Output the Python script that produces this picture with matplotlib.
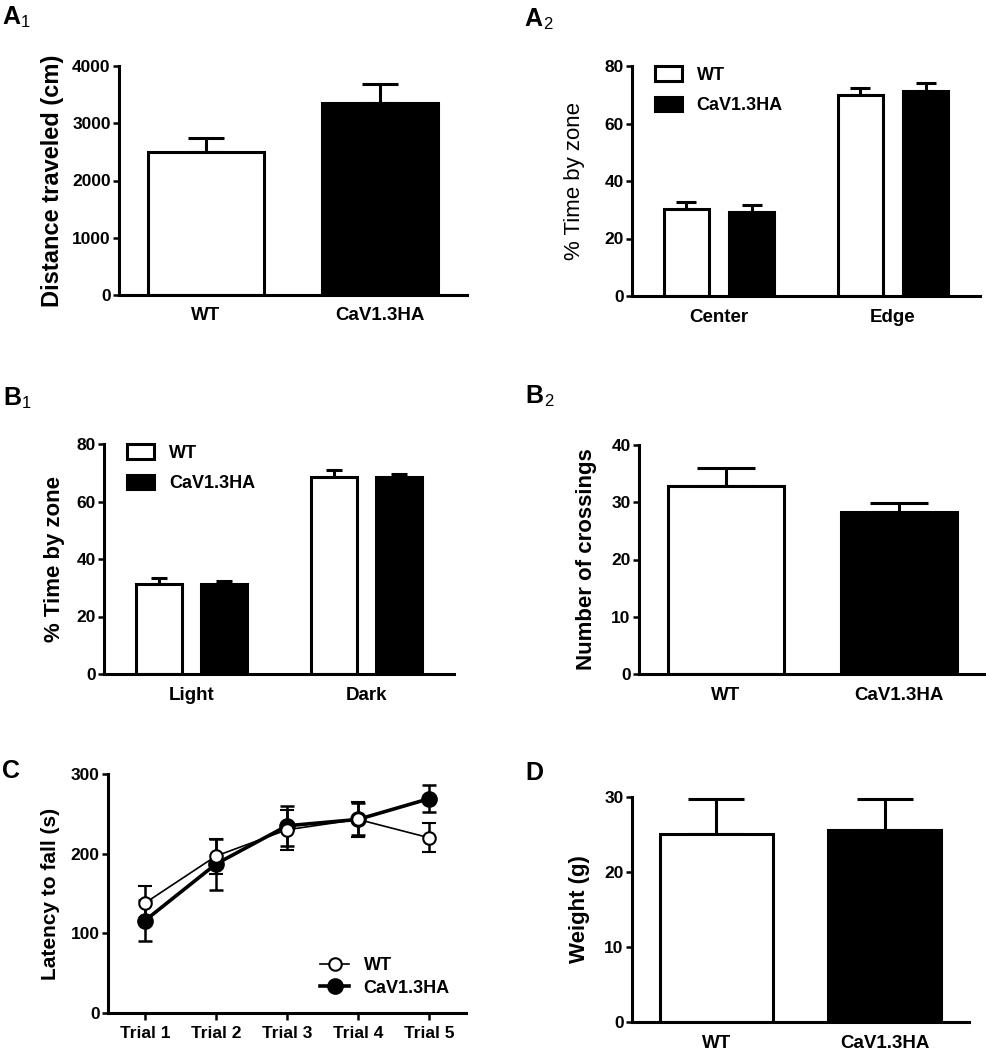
import numpy as np
import matplotlib
matplotlib.use('Agg')
import matplotlib.pyplot as plt
from matplotlib.lines import Line2D

plt.rcParams['font.family'] = ['Liberation Sans', 'DejaVu Sans']
plt.rcParams['font.weight'] = 'bold'

groups = ['WT', 'CaV1.3HA']

# A1: distance traveled
dist_mean = [2500, 3350]
dist_sem = [250, 330]

# A2: open field time by zone
of_zones = ['Center', 'Edge']
of_wt = [30.3, 69.9]
of_wt_sem = [2.4, 2.4]
of_ha = [29.2, 71.4]
of_ha_sem = [2.5, 2.7]

# B1: light/dark box time by zone
ld_zones = ['Light', 'Dark']
ld_wt = [31.3, 68.5]
ld_wt_sem = [2.1, 2.5]
ld_ha = [31.3, 68.5]
ld_ha_sem = [1.0, 1.1]

# B2: crossings
cross_mean = [32.8, 28.3]
cross_sem = [3.2, 1.6]

# C: rotarod
trials = ['Trial 1', 'Trial 2', 'Trial 3', 'Trial 4', 'Trial 5']
rot_wt = [138, 197, 230, 243, 220]
rot_wt_sem = [22, 22, 25, 22, 18]
rot_ha = [116, 187, 235, 243, 269]
rot_ha_sem = [26, 32, 25, 20, 17]

# D: weight
weight_mean = [25.1, 25.6]
weight_sem = [4.6, 4.1]

W, H = 986, 1050
fig = plt.figure(figsize=(W / 100, H / 100), dpi=100)


def make_ax(x0, y0, x1, y1):
    return fig.add_axes([x0 / W, 1 - y1 / H, (x1 - x0) / W, (y1 - y0) / H])


def style(ax, ymax, yticks, xticklen=0, xsize=13.5):
    for s in ['top', 'right']:
        ax.spines[s].set_visible(False)
    for s in ['left', 'bottom']:
        ax.spines[s].set_linewidth(2.2)
    ax.set_ylim(0, ymax)
    ax.set_yticks(yticks)
    ax.tick_params(axis='y', length=4, width=1.8, pad=2, labelsize=12.5)
    ax.tick_params(axis='x', length=xticklen, width=1.8, pad=9, labelsize=xsize)
    for lab in ax.get_xticklabels() + ax.get_yticklabels():
        lab.set_fontweight('bold')


def letter(x, y, main, sub=None):
    fig.text(x / W, 1 - y / H, main, fontsize=18, fontweight='bold', va='baseline')
    if sub:
        fig.text((x + 19) / W, 1 - (y + 3) / H, sub, fontsize=12, fontweight='normal', va='baseline')


def bar2(ax, vals, sems, width, cap):
    x = np.arange(len(vals))
    ax.errorbar(x, vals, yerr=[np.zeros(len(vals)), sems], fmt='none', ecolor='black',
                elinewidth=2.2, capsize=cap, capthick=2.2, zorder=1)
    ax.bar(x, vals, width=width, color=['white', 'black'], edgecolor='black', linewidth=2.2, zorder=2)
    ax.set_xticks(x)
    ax.set_xticklabels(groups)
    ax.set_xlim(-0.5, 1.5)


def grouped(ax, zones, wt, wts, ha, has, cap):
    x = np.arange(len(zones))
    off = 0.187
    w = 0.26
    ax.errorbar(x - off, wt, yerr=[np.zeros(len(wt)), wts], fmt='none', ecolor='black',
                elinewidth=2.2, capsize=cap, capthick=2.2, zorder=1)
    ax.errorbar(x + off, ha, yerr=[np.zeros(len(ha)), has], fmt='none', ecolor='black',
                elinewidth=2.2, capsize=cap, capthick=2.2, zorder=1)
    ax.bar(x - off, wt, width=w, color='white', edgecolor='black', linewidth=2.2, zorder=2, label='WT')
    ax.bar(x + off, ha, width=w, color='black', edgecolor='black', linewidth=2.2, zorder=2, label='CaV1.3HA')
    ax.set_xticks(x)
    ax.set_xticklabels(zones)
    ax.set_xlim(-0.5, 1.5)
    leg = ax.legend(loc='upper left', bbox_to_anchor=(0.02, 1.07), frameon=False,
                    handlelength=1.5, handleheight=0.9, handletextpad=0.8, labelspacing=0.7,
                    prop={'weight': 'bold', 'size': 13})
    for p in leg.get_patches():
        p.set_linewidth(2.2)


# A1
ax = make_ax(119, 66, 467, 295)
bar2(ax, dist_mean, dist_sem, 0.67, 13)
style(ax, 4000, [0, 1000, 2000, 3000, 4000])
ax.set_ylabel('Distance traveled (cm)', fontsize=17, fontweight='bold', labelpad=6)
letter(2, 24, 'A', '1')

# A2
ax = make_ax(632, 66, 980, 296)
grouped(ax, of_zones, of_wt, of_wt_sem, of_ha, of_ha_sem, 7)
style(ax, 80, [0, 20, 40, 60, 80])
ax.set_ylabel('% Time by zone', fontsize=16, fontweight='normal', labelpad=14)
letter(524, 26, 'A', '2')

# B1
ax = make_ax(104, 444, 454, 674)
grouped(ax, ld_zones, ld_wt, ld_wt_sem, ld_ha, ld_ha_sem, 6)
style(ax, 80, [0, 20, 40, 60, 80])
ax.set_ylabel('% Time by zone', fontsize=16, fontweight='bold', labelpad=8)
letter(3, 405, 'B', '1')

# B2
ax = make_ax(639, 445, 986, 674)
bar2(ax, cross_mean, cross_sem, 0.67, 21)
style(ax, 40, [0, 10, 20, 30, 40])
ax.set_ylabel('Number of crossings', fontsize=16, fontweight='bold', labelpad=10)
letter(525, 403, 'B', '2')

# C
ax = make_ax(108, 774, 466, 1013)
x = np.arange(len(trials))
ax.errorbar(x, rot_wt, yerr=rot_wt_sem, color='black', lw=1.2, marker='o', ms=9,
            mfc='white', mec='black', mew=1.5, capsize=5, capthick=1.8, elinewidth=1.8,
            label='WT', zorder=3)
ax.errorbar(x, rot_ha, yerr=rot_ha_sem, color='black', lw=2.6, marker='o', ms=11,
            mfc='black', mec='black', capsize=5, capthick=1.8, elinewidth=1.8,
            label='CaV1.3HA', zorder=2)
ax.set_xticks(x)
ax.set_xticklabels(trials)
ax.set_xlim(-0.52, 4.52)
style(ax, 300, [0, 100, 200, 300], xticklen=5, xsize=12.5)
ax.tick_params(axis='x', pad=4)
ax.set_ylabel('Latency to fall (s)', fontsize=15, fontweight='bold', labelpad=8)
handles = [Line2D([], [], color='black', lw=1.2, marker='o', ms=9, mfc='white', mew=1.5),
           Line2D([], [], color='black', lw=2.6, marker='o', ms=11, mfc='black')]
ax.legend(handles, ['WT', 'CaV1.3HA'], loc='lower right', bbox_to_anchor=(1.0, 0.0),
          frameon=False, handlelength=1.6, handletextpad=0.8, labelspacing=0.3,
          prop={'weight': 'bold', 'size': 13})
letter(2, 778, 'C')

# D
ax = make_ax(632, 797, 969, 1022)
bar2(ax, weight_mean, weight_sem, 0.67, 20)
style(ax, 30, [0, 10, 20, 30])
ax.set_ylabel('Weight (g)', fontsize=16, fontweight='bold', labelpad=10)
letter(525, 780, 'D')

fig.savefig('out.png', dpi=100)
